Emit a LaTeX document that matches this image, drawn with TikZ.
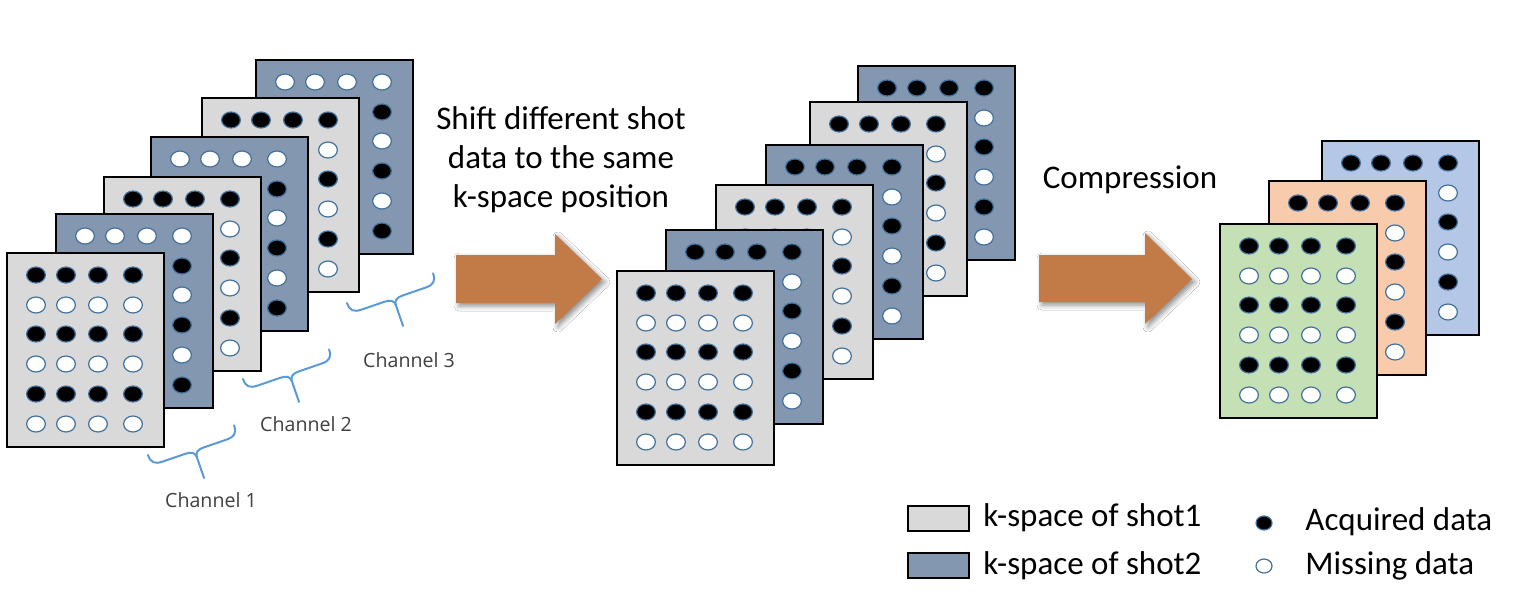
\documentclass[tikz,border=0pt]{standalone}
\usepackage{fontspec}
\setmainfont{Carlito}
\newfontfamily\chanfont{Open Sans}
\usetikzlibrary{shadows.blur}
\definecolor{cgray}{HTML}{D9D9D9}
\definecolor{cblue}{HTML}{8497B0}
\definecolor{cgreen}{HTML}{C5E0B4}
\definecolor{corange}{HTML}{F8CBAD}
\definecolor{clblue}{HTML}{B4C7E7}
\definecolor{carrow}{HTML}{C27A47}
\definecolor{cbrace}{HTML}{5B9BD5}
\definecolor{cdotedge}{HTML}{41719C}
\definecolor{ctext}{HTML}{404040}
\tikzset{
  card/.style={draw=black, line width=1pt},
  acq/.style={fill=black, draw=cdotedge, line width=0.6pt},
  mis/.style={fill=white, draw=cdotedge, line width=0.6pt},
  bigarrow/.style={fill=carrow, blur shadow={shadow xshift=1.5pt, shadow yshift=-1.5pt, shadow blur radius=2.5pt, shadow opacity=45}},
  bracestyle/.style={draw=cbrace, line width=1pt, line cap=round, line join=round},
  maintext/.style={font=\fontsize{16.5}{19.5}\selectfont, align=center, inner sep=0pt},
  chantext/.style={font=\chanfont\fontsize{9.8}{12}\selectfont, text=ctext, inner sep=0pt},
}
% #1 x, #2 y (top-left, px), #3 fill, #4 phase (0: odd rows acquired, 1: even rows acquired)
\newcommand\kcard[4]{%
  \draw[card, fill=#3] (#1,#2) rectangle ++(157,194);
  \foreach \r [count=\i] in {22,52,81,111,141,171}{%
    \foreach \c in {29,59,91,126}{%
      \ifodd\numexpr\i+#4\relax
        \draw[acq] (#1+\c,#2+\r) ellipse [x radius=4.7pt, y radius=4pt];
      \else
        \draw[mis] (#1+\c,#2+\r) ellipse [x radius=4.7pt, y radius=4pt];
      \fi
    }%
  }%
}
\newcommand\kbrace[3]{%
  \begin{scope}[shift={(#1,#2)}, rotate=#3]
    \draw[bracestyle] (0,0) .. controls (0,8) and (3,11) .. (12,11) -- (36,11)
      .. controls (42,11) and (45.5,13) .. (45.5,18) -- (45.5,40);
    \draw[bracestyle] (91,0) .. controls (91,8) and (88,11) .. (79,11) -- (55,11)
      .. controls (49,11) and (45.5,13) .. (45.5,18);
  \end{scope}%
}
\begin{document}
\begin{tikzpicture}[x=0.5pt, y=-0.5pt]
\path[use as bounding box, fill=white] (0,0) rectangle (1514,606);

% left stack
\kcard{256}{60}{cblue}{1}
\kcard{202}{98}{cgray}{0}
\kcard{151}{137}{cblue}{1}
\kcard{104}{177}{cgray}{0}
\kcard{56}{214}{cblue}{1}
\kcard{7}{253}{cgray}{0}

% braces and channel labels
\kbrace{347}{303}{19}
\kbrace{243}{379}{19}
\kbrace{148}{455}{19}
\node[chantext] (ch1) at (211,500) {Channel 1};
\node[chantext] (ch2) at (306,424) {Channel 2};
\node[chantext] (ch3) at (409,360) {Channel 3};

% text 1 and arrow 1
\node[maintext] (shifttext) at (561,160) {Shift different shot\\data to the same\\k-space position};
\fill[bigarrow] (456,255) -- (555,255) -- (555,234) -- (602,279) -- (555,324) -- (555,303) -- (456,303) -- cycle;

% middle stack
\kcard{858}{66}{cblue}{0}
\kcard{810}{102}{cgray}{0}
\kcard{766}{145}{cblue}{0}
\kcard{716}{185}{cgray}{0}
\kcard{666}{230}{cblue}{0}
\kcard{617}{271}{cgray}{0}

% text 2 and arrow 2
\node[maintext] (comptext) at (1130,180) {Compression};
\fill[bigarrow] (1039,255) -- (1145,255) -- (1145,233) -- (1192,279) -- (1145,324) -- (1145,302) -- (1039,302) -- cycle;

% right stack
\kcard{1322}{141}{clblue}{0}
\kcard{1269}{181}{corange}{0}
\kcard{1220}{224}{cgreen}{0}

% legend
\draw[card, fill=cgray] (908,506) rectangle (969,531);
\draw[card, fill=cblue] (908,553) rectangle (969,578);
\node[maintext, anchor=west] (leg1) at (983,518) {k-space of shot1};
\node[maintext, anchor=west] (leg2) at (983,566) {k-space of shot2};
\draw[acq] (1264,523) ellipse [x radius=4pt, y radius=3.5pt];
\draw[mis] (1264,566) ellipse [x radius=4pt, y radius=3.5pt];
\node[maintext, anchor=west] (leg3) at (1305,522) {Acquired data};
\node[maintext, anchor=west] (leg4) at (1305,566) {Missing data};
\end{tikzpicture}
\end{document}
